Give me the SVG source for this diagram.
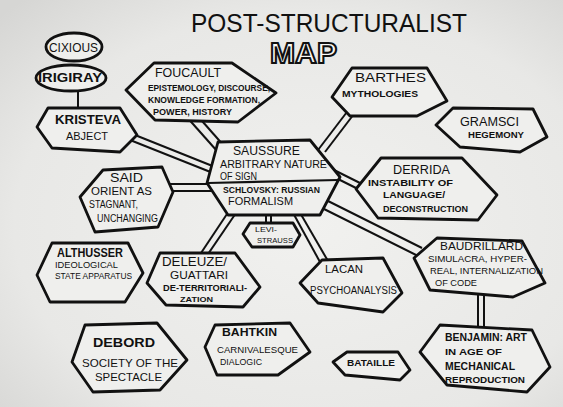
<svg xmlns="http://www.w3.org/2000/svg" width="563" height="407" viewBox="0 0 563 407">
<defs>
<radialGradient id="paper" cx="55%" cy="55%" r="75%">
<stop offset="0" stop-color="#f1f1ef"/>
<stop offset="0.7" stop-color="#e8e8e6"/>
<stop offset="1" stop-color="#d6d6d4"/>
</radialGradient>
<style>
.n{fill:#efefed;stroke:#111;stroke-width:2.8;stroke-linejoin:round}
.c line{stroke:#111;stroke-width:2}
text{font-family:"Liberation Sans",Arial,sans-serif;fill:#111}
.h{font-weight:bold}
.s{font-weight:bold}
</style>
</defs>
<rect width="563" height="407" fill="url(#paper)"/>

<g id="title">
<text x="191" y="32" font-size="25" textLength="276" lengthAdjust="spacingAndGlyphs">POST-STRUCTURALIST</text>
<text x="270" y="63" font-size="29" font-weight="bold" textLength="67" lengthAdjust="spacingAndGlyphs" style="fill:#fafaf8;stroke:#111;stroke-width:2">MAP</text>
</g>

<g id="connectors" class="c">
<line x1="78" y1="90" x2="78" y2="110"/>
<line x1="130" y1="133" x2="220" y2="169"/>
<line x1="130" y1="140" x2="218" y2="175"/>
<line x1="185" y1="115" x2="225" y2="160"/>
<line x1="195" y1="113" x2="232" y2="155"/>
<line x1="350" y1="108" x2="318" y2="150"/>
<line x1="357" y1="110" x2="325" y2="152"/>
<line x1="168" y1="184" x2="212" y2="184"/>
<line x1="168" y1="191" x2="212" y2="191"/>
<line x1="330" y1="168" x2="362" y2="184"/>
<line x1="328" y1="174" x2="360" y2="190"/>
<line x1="320" y1="197" x2="422" y2="248"/>
<line x1="316" y1="205" x2="418" y2="256"/>
<line x1="229" y1="211" x2="199" y2="256"/>
<line x1="236" y1="213" x2="206" y2="257"/>
<line x1="292" y1="211" x2="320" y2="262"/>
<line x1="299" y1="211" x2="328" y2="261"/>
<line x1="266" y1="212" x2="266" y2="225"/>
<line x1="271" y1="212" x2="271" y2="225"/>
<line x1="478" y1="292" x2="478" y2="329"/>
<line x1="484" y1="292" x2="484" y2="329"/>
</g>

<g id="cixious">
<ellipse class="n" cx="74" cy="47" rx="28" ry="14"/>
<text x="49" y="52" font-size="12.5" textLength="49" lengthAdjust="spacingAndGlyphs">CIXIOUS</text>
</g>
<g id="irigiray">
<ellipse class="n" cx="71" cy="78" rx="35" ry="13"/>
<text class="s" x="38" y="82" font-size="12" textLength="64" lengthAdjust="spacingAndGlyphs">IRIGIRAY</text>
</g>
<g id="kristeva">
<polygon class="n" points="37,127 48,108 120,108 137,135 120,152 52,148"/>
<text class="h" x="55" y="124" font-size="13" textLength="66" lengthAdjust="spacingAndGlyphs">KRISTEVA</text>
<text x="66" y="140" font-size="10.5" textLength="42" lengthAdjust="spacingAndGlyphs">ABJECT</text>
</g>
<g id="foucault">
<polygon class="n" points="126,90 154,63 232,63 276,93 238,122 155,120"/>
<text x="155" y="77" font-size="13" textLength="66" lengthAdjust="spacingAndGlyphs">FOUCAULT</text>
<text class="s" x="148" y="91" font-size="8.5" textLength="122" lengthAdjust="spacingAndGlyphs">EPISTEMOLOGY, DISCOURSE,</text>
<text class="s" x="148" y="103" font-size="8.5" textLength="112" lengthAdjust="spacingAndGlyphs">KNOWLEDGE FORMATION,</text>
<text class="s" x="153" y="115" font-size="9" textLength="79" lengthAdjust="spacingAndGlyphs">POWER, HISTORY</text>
</g>
<g id="barthes">
<polygon class="n" points="332,97 352,68 427,68 447,101 417,116 350,116"/>
<text x="355" y="82" font-size="13" textLength="71" lengthAdjust="spacingAndGlyphs">BARTHES</text>
<text class="s" x="342" y="97" font-size="9.5" textLength="76" lengthAdjust="spacingAndGlyphs">MYTHOLOGIES</text>
</g>
<g id="gramsci">
<polygon class="n" points="436,125 453,108 533,109 547,137 520,152 460,147"/>
<text x="460" y="126" font-size="12" textLength="59" lengthAdjust="spacingAndGlyphs">GRAMSCI</text>
<text class="s" x="468" y="138" font-size="9" textLength="56" lengthAdjust="spacingAndGlyphs">HEGEMONY</text>
</g>
<g id="saussure">
<polygon class="n" points="207,183 218,142 310,140 340,177 320,215 228,215"/>
<line x1="208" y1="183" x2="338" y2="180" stroke="#111" stroke-width="2.2"/>
<text x="233" y="155" font-size="12" textLength="67" lengthAdjust="spacingAndGlyphs">SAUSSURE</text>
<text x="220" y="168" font-size="10.5" textLength="107" lengthAdjust="spacingAndGlyphs">ARBITRARY NATURE</text>
<text x="220" y="180" font-size="10.5" textLength="37" lengthAdjust="spacingAndGlyphs">OF SIGN</text>
<text class="s" x="223" y="193" font-size="8.5" textLength="97" lengthAdjust="spacingAndGlyphs">SCHLOVSKY: RUSSIAN</text>
<text x="228" y="205" font-size="10.5" textLength="65" lengthAdjust="spacingAndGlyphs">FORMALISM</text>
</g>
<g id="levi-strauss">
<polygon class="n" points="243,234 250,223 293,223 300,235 293,247 252,247"/>
<text x="255" y="232" font-size="7.5" textLength="22" lengthAdjust="spacingAndGlyphs">LEVI-</text>
<text x="257" y="243" font-size="7.5" textLength="36" lengthAdjust="spacingAndGlyphs">STRAUSS</text>
</g>
<g id="said">
<polygon class="n" points="80,197 103,170 162,167 173,192 158,227 95,232"/>
<text x="110" y="182" font-size="12.5" textLength="33" lengthAdjust="spacingAndGlyphs">SAID</text>
<text x="91" y="195" font-size="10" textLength="61" lengthAdjust="spacingAndGlyphs">ORIENT AS</text>
<text x="89" y="208" font-size="10" textLength="49" lengthAdjust="spacingAndGlyphs">STAGNANT,</text>
<text x="97" y="222" font-size="10" textLength="61" lengthAdjust="spacingAndGlyphs">UNCHANGING</text>
</g>
<g id="derrida">
<polygon class="n" points="356,189 381,158 462,158 497,195 478,220 378,218"/>
<text x="393" y="174" font-size="12" textLength="57" lengthAdjust="spacingAndGlyphs">DERRIDA</text>
<text class="s" x="368" y="186" font-size="8.5" textLength="85" lengthAdjust="spacingAndGlyphs">INSTABILITY OF</text>
<text class="s" x="383" y="198" font-size="9" textLength="62" lengthAdjust="spacingAndGlyphs">LANGUAGE/</text>
<text class="s" x="383" y="212" font-size="9" textLength="85" lengthAdjust="spacingAndGlyphs">DECONSTRUCTION</text>
</g>
<g id="baudrillard">
<polygon class="n" points="414,258 437,238 522,241 545,283 513,297 430,290"/>
<text x="440" y="250" font-size="11.5" textLength="83" lengthAdjust="spacingAndGlyphs">BAUDRILLARD</text>
<text x="428" y="262" font-size="9" textLength="99" lengthAdjust="spacingAndGlyphs">SIMULACRA, HYPER-</text>
<text x="430" y="274" font-size="9" textLength="113" lengthAdjust="spacingAndGlyphs">REAL, INTERNALIZATION</text>
<text x="435" y="286" font-size="9" textLength="42" lengthAdjust="spacingAndGlyphs">OF CODE</text>
</g>
<g id="althusser">
<polygon class="n" points="37,275 52,243 128,243 143,273 125,302 50,302"/>
<text class="h" x="57" y="257" font-size="12" textLength="66" lengthAdjust="spacingAndGlyphs">ALTHUSSER</text>
<text x="55" y="268" font-size="8.5" textLength="63" lengthAdjust="spacingAndGlyphs">IDEOLOGICAL</text>
<text x="55" y="279" font-size="8.5" textLength="77" lengthAdjust="spacingAndGlyphs">STATE APPARATUS</text>
</g>
<g id="deleuze-guattari">
<polygon class="n" points="147,283 160,253 235,253 260,287 243,307 166,305"/>
<text x="162" y="266" font-size="12" textLength="65" lengthAdjust="spacingAndGlyphs">DELEUZE/</text>
<text x="170" y="279" font-size="11" textLength="58" lengthAdjust="spacingAndGlyphs">GUATTARI</text>
<text class="s" x="163" y="291" font-size="8.5" textLength="84" lengthAdjust="spacingAndGlyphs">DE-TERRITORIALI-</text>
<text class="s" x="180" y="302" font-size="8" textLength="33" lengthAdjust="spacingAndGlyphs">ZATION</text>
</g>
<g id="lacan">
<polygon class="n" points="300,283 322,260 383,258 402,293 383,312 318,303"/>
<text x="325" y="273" font-size="10.5" textLength="38" lengthAdjust="spacingAndGlyphs">LACAN</text>
<text x="310" y="294" font-size="10" textLength="87" lengthAdjust="spacingAndGlyphs">PSYCHOANALYSIS</text>
</g>
<g id="debord">
<polygon class="n" points="72,362 85,325 157,323 187,360 160,390 93,392"/>
<text class="h" x="93" y="347" font-size="13" textLength="62" lengthAdjust="spacingAndGlyphs">DEBORD</text>
<text x="82" y="367" font-size="10.5" textLength="96" lengthAdjust="spacingAndGlyphs">SOCIETY OF THE</text>
<text x="95" y="381" font-size="10.5" textLength="67" lengthAdjust="spacingAndGlyphs">SPECTACLE</text>
</g>
<g id="bahtkin">
<polygon class="n" points="205,347 215,325 290,323 310,352 278,375 217,375"/>
<text class="h" x="222" y="336" font-size="10.5" textLength="55" lengthAdjust="spacingAndGlyphs">BAHTKIN</text>
<text x="217" y="353" font-size="9" textLength="81" lengthAdjust="spacingAndGlyphs">CARNIVALESQUE</text>
<text x="220" y="365" font-size="8.5" textLength="42" lengthAdjust="spacingAndGlyphs">DIALOGIC</text>
</g>
<g id="bataille">
<polygon class="n" points="333,362 347,352 398,352 410,370 400,380 345,375"/>
<text class="h" x="347" y="366" font-size="9" textLength="48" lengthAdjust="spacingAndGlyphs">BATAILLE</text>
</g>
<g id="benjamin">
<polygon class="n" points="420,352 440,325 532,330 550,367 527,392 447,385"/>
<text class="h" x="445" y="341" font-size="10" textLength="82" lengthAdjust="spacingAndGlyphs">BENJAMIN: ART</text>
<text class="h" x="445" y="355" font-size="9.5" textLength="57" lengthAdjust="spacingAndGlyphs">IN AGE OF</text>
<text class="h" x="445" y="370" font-size="10" textLength="70" lengthAdjust="spacingAndGlyphs">MECHANICAL</text>
<text class="h" x="445" y="383" font-size="9" textLength="80" lengthAdjust="spacingAndGlyphs">REPRODUCTION</text>
</g>
</svg>
